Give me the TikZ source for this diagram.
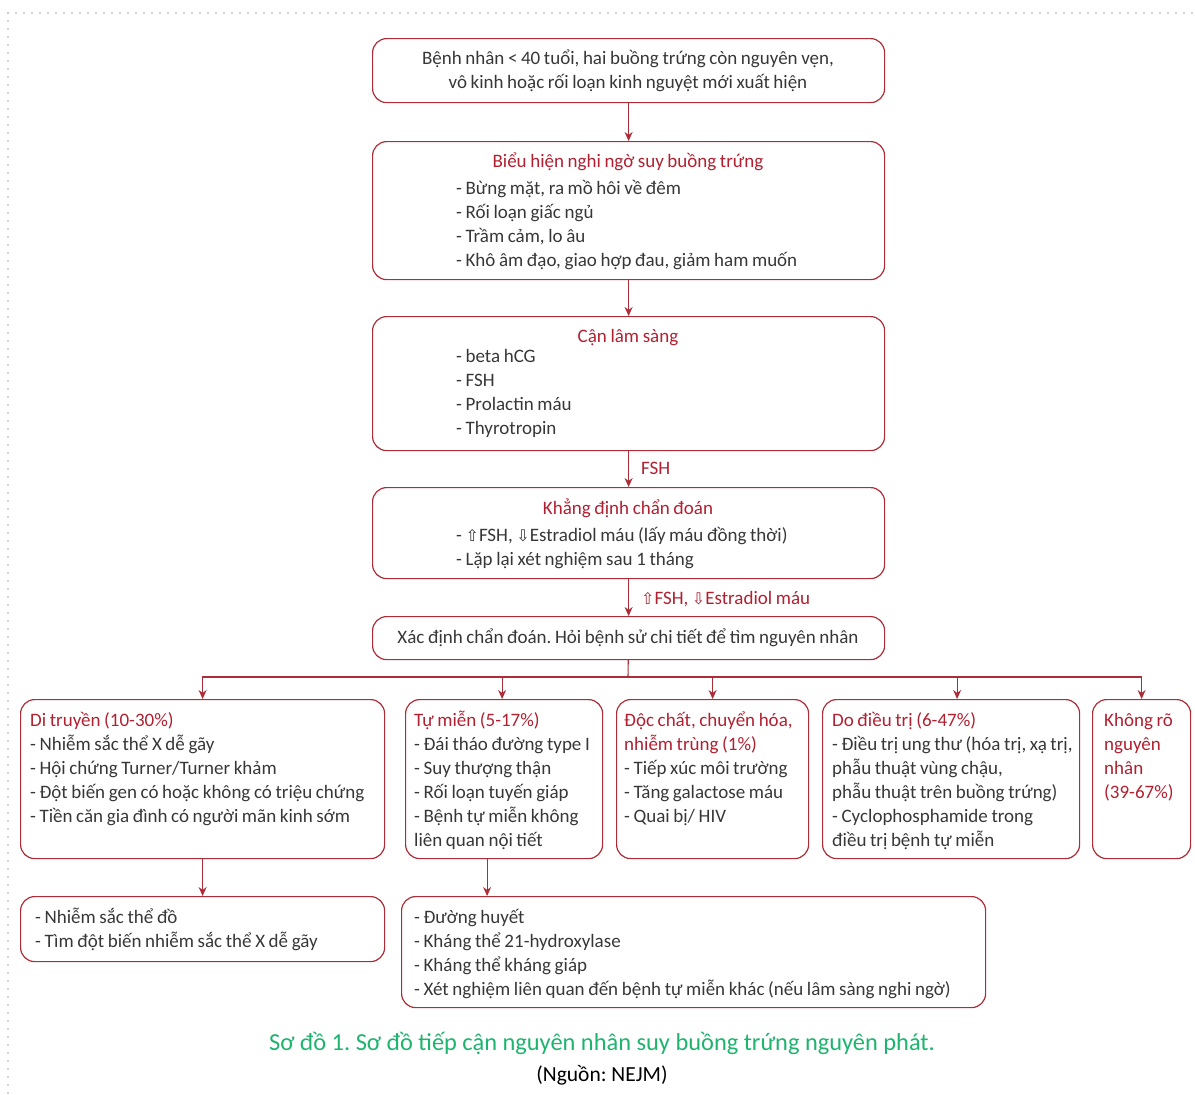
\documentclass[tikz,border=0pt]{standalone}
\usepackage{fontspec}
\setmainfont{Carlito}
\newfontfamily\symf{DejaVu Sans}
\usetikzlibrary{arrows.meta}
\frenchspacing
\definecolor{redc}{RGB}{176,32,48}
\definecolor{linec}{RGB}{172,45,55}
\definecolor{txtc}{RGB}{55,55,55}
\definecolor{greenc}{RGB}{30,180,110}
\newcommand{\bodyfont}{\fontsize{19}{24}\selectfont\spaceskip=3.6pt plus 1pt minus 0.5pt\relax}
\newcommand{\capfont}{\fontsize{24.4}{24}\selectfont}
\tikzset{
  box/.style={draw=linec, line width=1.2pt, rounded corners=14pt, inner sep=0pt, anchor=north west},
  txt/.style={text=txtc, inner sep=0pt, anchor=base west, align=flush left, font=\bodyfont},
  ttl/.style={text=redc, inner sep=0pt, anchor=base, font=\bodyfont},
  arr/.style={draw=linec, line width=1.1pt, -{Stealth[length=9pt,width=8pt]}},
  frame/.style={draw=gray!45, line width=2.2pt, line cap=round, dash pattern=on 0pt off 8pt},
}
\newcommand{\up}{{\symf\fontsize{16}{24}\selectfont ⇧}}
\newcommand{\dn}{{\symf\fontsize{16}{24}\selectfont ⇩}}

\begin{document}
\begin{tikzpicture}[x=1pt,y=-1pt]
    \useasboundingbox (0,0) rectangle (1195,1095);
    % dotted frame
    \draw[frame] (8,13) -- (1195,13);
    \draw[frame] (8,13) -- (8,1095);

    % main column
    \node[box, minimum width=512pt, minimum height=64pt] (pat) at (372,38) {};
    \node[txt, anchor=base, text width=500pt, align=flush center] (patt) at (628,64)
        {Bệnh nhân < 40 tuổi, hai buồng trứng còn nguyên vẹn,\\vô kinh hoặc rối loạn kinh nguyệt mới xuất hiện};

    \node[box, minimum width=512pt, minimum height=138pt] (sym) at (372,141) {};
    \node[ttl] (symt) at (628,167) {Biểu hiện nghi ngờ suy buồng trứng};
    \node[txt, text width=420pt] (syml) at (456,194)
        {- Bừng mặt, ra mồ hôi về đêm\\- Rối loạn giấc ngủ\\- Trầm cảm, lo âu\\- Khô âm đạo, giao hợp đau, giảm ham muốn};

    \node[box, minimum width=512pt, minimum height=134pt] (lab) at (372,316) {};
    \node[ttl] (labt) at (628,342) {Cận lâm sàng};
    \node[txt, text width=420pt] (labl) at (456,362)
        {- beta hCG\\- FSH\\- Prolactin máu\\- Thyrotropin};

    \node[box, minimum width=512pt, minimum height=91pt] (conf) at (372,487) {};
    \node[ttl] (conft) at (628,514) {Khẳng định chẩn đoán};
    \node[txt, text width=420pt] (confl) at (456,541)
        {- \up FSH, \dn Estradiol máu (lấy máu đồng thời)\\- Lặp lại xét nghiệm sau 1 tháng};

    \node[box, minimum width=512pt, minimum height=43pt] (cause) at (372,616) {};
    \node[txt, anchor=base] (causet) at (628,643) {Xác định chẩn đoán. Hỏi bệnh sử chi tiết để tìm nguyên nhân};

    \node[ttl, anchor=base west] (lfsh) at (641,474) {FSH};
    \node[ttl, anchor=base west] (lest) at (641,604) {\up FSH, \dn Estradiol máu};

    \draw[arr] (pat) -- (sym);
    \draw[arr] (sym) -- (lab);
    \draw[arr] (lab) -- (conf);
    \draw[arr] (conf) -- (cause);

    % causes
    \node[box, minimum width=364pt, minimum height=159pt] (gen) at (20,699) {};
    \node[txt, text width=360pt] (gent) at (30,726)
        {\textcolor{redc}{Di truyền (10-30\%)}\\- Nhiễm sắc thể X dễ gãy\\- Hội chứng Turner/Turner khảm\\- Đột biến gen có hoặc không có triệu chứng\\- Tiền căn gia đình có người mãn kinh sớm};

    \node[box, minimum width=197pt, minimum height=159pt] (auto) at (405,699) {};
    \node[txt, text width=200pt] (autot) at (414,726)
        {\textcolor{redc}{Tự miễn (5-17\%)}\\- Đái tháo đường type I\\- Suy thượng thận\\- Rối loạn tuyến giáp\\- Bệnh tự miễn không\\liên quan nội tiết};

    \node[box, minimum width=192pt, minimum height=159pt] (tox) at (616,699) {};
    \node[txt, text width=200pt] (toxt) at (624,726)
        {\textcolor{redc}{Độc chất, chuyển hóa,}\\\textcolor{redc}{nhiễm trùng (1\%)}\\- Tiếp xúc môi trường\\- Tăng galactose máu\\- Quai bị/ HIV};

    \node[box, minimum width=257pt, minimum height=159pt] (iat) at (822,699) {};
    \node[txt, text width=300pt] (iatt) at (832,726)
        {\textcolor{redc}{Do điều trị (6-47\%)}\\- Điều trị ung thư (hóa trị, xạ trị,\\phẫu thuật vùng chậu,\\phẫu thuật trên buồng trứng)\\- Cyclophosphamide trong\\điều trị bệnh tự miễn};

    \node[box, minimum width=98pt, minimum height=159pt] (unk) at (1092,699) {};
    \node[txt, text width=90pt, text=redc] (unkt) at (1104,726)
        {Không rõ\\nguyên\\nhân\\(39-67\%)};

    \coordinate (split) at (628,677);
    \draw[linec, line width=1.1pt] (cause) -- (split);
    \draw[arr] (split) -| (gen.north);
    \draw[arr] (split) -| ([xshift=-2pt]auto.north);
    \draw[arr] (split) -| (tox.north);
    \draw[arr] (split) -| ([xshift=6pt]iat.north);
    \draw[arr] (split) -| (unk.north);

    % tests
    \node[box, minimum width=364pt, minimum height=65pt] (gent2) at (20,896) {};
    \node[txt, text width=350pt] (gent2t) at (35,923)
        {- Nhiễm sắc thể đồ\\- Tìm đột biến nhiễm sắc thể X dễ gãy};

    \node[box, minimum width=584pt, minimum height=111pt] (auto2) at (401,896) {};
    \node[txt, text width=575pt] (auto2t) at (414,923)
        {- Đường huyết\\- Kháng thể 21-hydroxylase\\- Kháng thể kháng giáp\\- Xét nghiệm liên quan đến bệnh tự miễn khác (nếu lâm sàng nghi ngờ)};

    \draw[arr] (gen) -- (gent2);
    \draw[arr] ([xshift=-17pt]auto.south) -- ([xshift=-17pt]auto.south |- auto2.north);

    % caption
    \node[inner sep=0pt, anchor=base, text=greenc, font=\capfont] (cap) at (602,1050)
        {Sơ đồ 1. Sơ đồ tiếp cận nguyên nhân suy buồng trứng nguyên phát.};
    \node[inner sep=0pt, anchor=base, text=black, font=\fontsize{21.5}{24}\selectfont] (src) at (602,1081)
        {(Nguồn: NEJM)};
\end{tikzpicture}
\end{document}
